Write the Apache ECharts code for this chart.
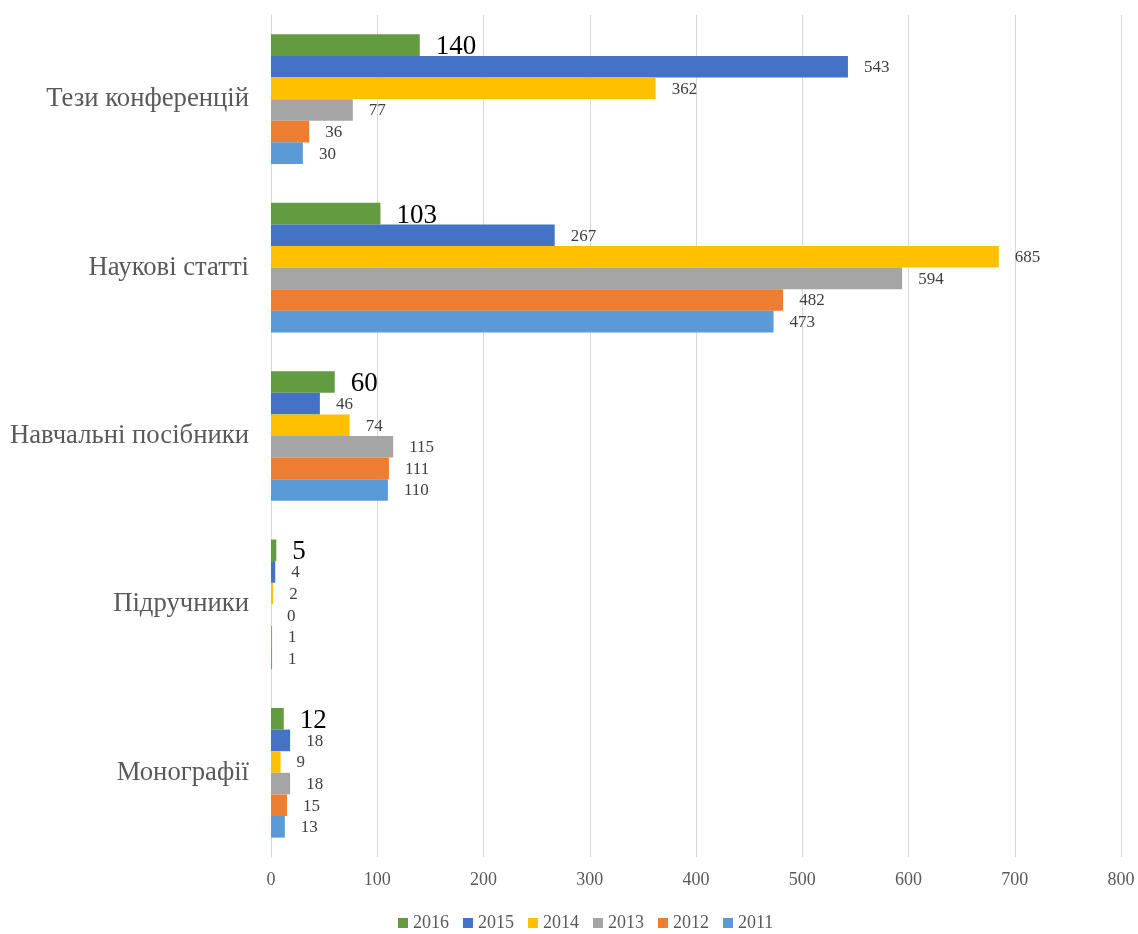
<!DOCTYPE html>
<html>
<head>
<meta charset="utf-8">
<script src="https://cdn.jsdelivr.net/npm/echarts@6/dist/echarts.min.js"></script>
<style>
  html, body { margin: 0; padding: 0; background: #fff; }
  #chart { width: 1138px; height: 934px; }
</style>
</head>
<body>
<div id="chart"></div>
<script>
// categories listed bottom to top
var categories = ['Монографії', 'Підручники', 'Навчальні посібники', 'Наукові статті', 'Тези конференцій']
var years = ['2016', '2015', '2014', '2013', '2012', '2011']
var values2016 = [12, 5, 60, 103, 140]
var values2015 = [18, 4, 46, 267, 543]
var values2014 = [9, 2, 74, 685, 362]
var values2013 = [18, 0, 115, 594, 77]
var values2012 = [15, 1, 111, 482, 36]
var values2011 = [13, 1, 110, 473, 30]
var xTicks = [0, 100, 200, 300, 400, 500, 600, 700, 800]

var colors = ['#639B41', '#4472C4', '#FFC000', '#A5A5A5', '#ED7D31', '#5B9BD5']
var allValues = [values2016, values2015, values2014, values2013, values2012, values2011]

var font = 'Liberation Serif'

// first series sits at the top of each band
var series = years.map(function (y, i) {
    var big = i === 0
    return {
        name: y,
        type: 'bar',
        data: allValues[i],
        barGap: '0%',
        barCategoryGap: '23%',
        itemStyle: { color: colors[i] },
        label: {
            show: true,
            position: 'right',
            distance: 16,
            offset: big ? [0, 2] : [0, 1],
            fontFamily: font,
            fontSize: big ? 27 : 17,
            color: big ? '#000000' : '#404040'
        }
    }
})

var chart = echarts.init(document.getElementById('chart'))
chart.setOption({
    animation: false,
    backgroundColor: '#ffffff',
    grid: { left: 271, right: 17, top: 15, bottom: 77 },
    legend: {
        data: years,
        bottom: 2,
        left: 398,
        padding: 0,
        itemWidth: 10,
        itemHeight: 10,
        itemGap: 14,
        icon: 'rect',
        textStyle: { fontFamily: font, fontSize: 18, color: '#595959' }
    },
    xAxis: {
        type: 'value',
        min: xTicks[0],
        max: xTicks[xTicks.length - 1],
        interval: 100,
        axisLine: { show: false },
        axisTick: { show: false },
        splitLine: { lineStyle: { color: '#D9D9D9' } },
        axisLabel: { fontFamily: font, fontSize: 18, color: '#595959', margin: 14 }
    },
    yAxis: {
        type: 'category',
        data: categories,
        axisLine: { show: true, lineStyle: { color: '#D9D9D9' } },
        axisTick: { show: false },
        axisLabel: { fontFamily: font, fontSize: 26.7, color: '#595959', margin: 22, padding: [3, 0, 0, 0] }
    },
    series: series
})
</script>
</body>
</html>
